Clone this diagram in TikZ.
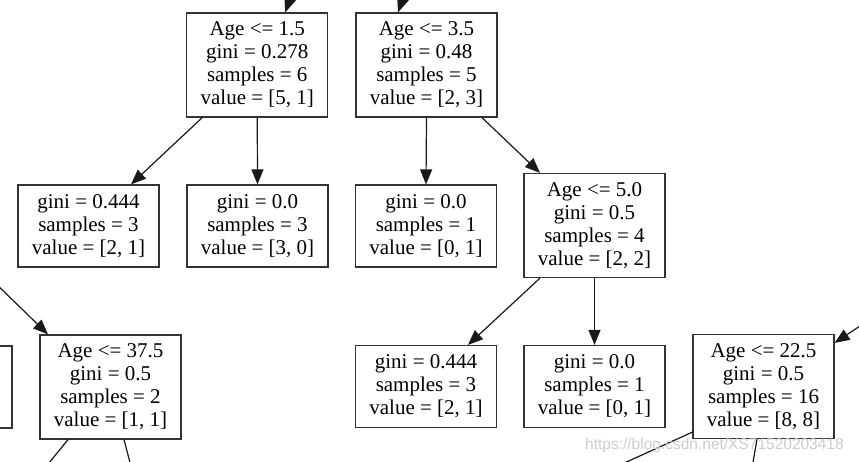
\documentclass[tikz,border=0pt]{standalone}
\usepackage{fontspec}
\setmainfont{Liberation Serif}
\newfontfamily\wmfont{Liberation Sans}
\usetikzlibrary{arrows.meta}
\begin{document}
\begin{tikzpicture}[x=1pt,y=-1pt,
  box/.style={draw=black!80, line width=1.2pt, minimum width=141pt, inner sep=0pt,
    align=center, font=\fontsize{21}{23}\selectfont, fill=white},
  tall/.style={box, minimum height=104pt},
  short/.style={box, minimum height=82pt},
  edge/.style={line width=1.2pt, draw=black!90, -{Triangle[length=15pt,width=12pt]}},
  plain/.style={line width=1.2pt, draw=black!90}]
\useasboundingbox (0,0) rectangle (859,462);
\fill[white] (0,0) rectangle (859,462);
\clip (0,0) rectangle (859,462);

% nodes
\node[tall]  (A) at (257.25,65)  {Age <= 1.5\\gini = 0.278\\samples = 6\\value = [5, 1]};
\node[tall]  (B) at (426.5,65)   {Age <= 3.5\\gini = 0.48\\samples = 5\\value = [2, 3]};
\node[short] (C) at (88.5,226)   {gini = 0.444\\samples = 3\\value = [2, 1]};
\node[short] (D) at (257.5,226)  {gini = 0.0\\samples = 3\\value = [3, 0]};
\node[short] (E) at (426,226)    {gini = 0.0\\samples = 1\\value = [0, 1]};
\node[tall]  (F) at (594.5,225.5){Age <= 5.0\\gini = 0.5\\samples = 4\\value = [2, 2]};
\node[short] (H) at (-58.5,387)  {};
\node[tall]  (G) at (110.5,387)  {Age <= 37.5\\gini = 0.5\\samples = 2\\value = [1, 1]};
\node[short] (I) at (426,386.5)  {gini = 0.444\\samples = 3\\value = [2, 1]};
\node[short] (J) at (594.5,386.5){gini = 0.0\\samples = 1\\value = [0, 1]};
\node[tall]  (K) at (763.5,386.5){Age <= 22.5\\gini = 0.5\\samples = 16\\value = [8, 8]};

% free ends outside the view
\coordinate (pA) at (300,-30);
\coordinate (pB) at (413,-30);
\coordinate (pG) at (-10,278);
\coordinate (pK) at (872,318);
\coordinate (g1) at (40,474);
\coordinate (g2) at (133,474);
\coordinate (k1) at (600,474);
\coordinate (k2) at (751,474);

% connectors
\draw[edge] (pA) -- ([xshift=28pt]A.north);
\draw[edge] (pB) -- ([xshift=-28.5pt]B.north);
\draw[edge] ([xshift=-55pt]A.south) -- ([xshift=42.5pt]C.north);
\draw[edge] (A.south) -- (D.north);
\draw[edge] (B.south) -- (E.north);
\draw[edge] ([xshift=55.5pt]B.south) -- ([xshift=-54.5pt]F.north);
\draw[edge] ([xshift=-54.5pt]F.south) -- ([xshift=42pt]I.north);
\draw[edge] (F.south) -- (J.north);
\draw[edge] (pG) -- ([xshift=-62.5pt]G.north);
\draw[edge] (pK) -- ([yshift=-9pt]K.north east);
\draw[plain] ([xshift=-42.5pt]G.south) -- (g1);
\draw[plain] ([xshift=13.5pt]G.south) -- (g2);
\draw[plain] ([yshift=7pt]K.south west) -- (k1);
\draw[plain] ([xshift=-6.5pt]K.south) -- (k2);

% watermark
\node[anchor=base west, inner sep=0pt, font=\wmfont\fontsize{15.5}{18}\selectfont,
  text=black!20] (wm) at (585,449) {https://blog.csdn.net/XS71520203418};
\end{tikzpicture}
\end{document}
